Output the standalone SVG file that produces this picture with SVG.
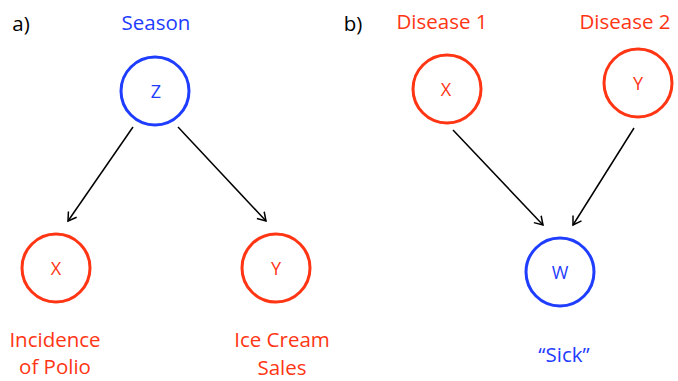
<svg xmlns="http://www.w3.org/2000/svg" width="678" height="381" viewBox="0 0 678 381">
<style>
text{font-family:"Open Sans","Liberation Sans",sans-serif;text-anchor:middle}
.lbl{font-size:20.5px}
.nl{font-size:18px}
.red{fill:#ff3514}
.blue{fill:#1f3dff}
.black{fill:#000}
circle.r{fill:#fff;stroke:#ff3514;stroke-width:3}
circle.b{fill:#fff;stroke:#1f3dff;stroke-width:3}
.edge{stroke:#000;stroke-width:1.5;fill:none;marker-end:url(#ah)}
</style>
<defs>
<marker id="ah" markerWidth="12" markerHeight="12" refX="10" refY="6" orient="auto" markerUnits="userSpaceOnUse">
<path d="M2,1 L10,6 L2,11" fill="none" stroke="#000" stroke-width="1.5"/>
</marker>
</defs>
<text class="lbl black" x="21" y="31">a)</text>
<text class="lbl black" x="353" y="31">b)</text>
<g id="edges">
<line class="edge" x1="133" y1="127" x2="68" y2="221"/>
<line class="edge" x1="178" y1="127" x2="266" y2="221"/>
<line class="edge" x1="453" y1="130" x2="543" y2="225"/>
<line class="edge" x1="634" y1="128" x2="573" y2="225"/>
</g>
<g id="nodeZ">
<circle class="b" cx="155" cy="91" r="34"/>
<text class="nl blue" x="156" y="98">Z</text>
<text class="lbl blue" x="156" y="30">Season</text>
</g>
<g id="nodeXa">
<circle class="r" cx="56" cy="268" r="34"/>
<text class="nl red" x="56" y="275">X</text>
<text class="lbl red" x="55" y="347">Incidence</text>
<text class="lbl red" x="55" y="374">of Polio</text>
</g>
<g id="nodeYa">
<circle class="r" cx="276" cy="268" r="34"/>
<text class="nl red" x="276" y="275">Y</text>
<text class="lbl red" x="282" y="347">Ice Cream</text>
<text class="lbl red" x="282" y="375">Sales</text>
</g>
<g id="nodeXb">
<circle class="r" cx="447" cy="89" r="34"/>
<text class="nl red" x="446" y="96">X</text>
<text class="lbl red" x="442" y="29">Disease 1</text>
</g>
<g id="nodeYb">
<circle class="r" cx="638" cy="83" r="34"/>
<text class="nl red" x="638" y="90">Y</text>
<text class="lbl red" x="625" y="29">Disease 2</text>
</g>
<g id="nodeW">
<circle class="b" cx="560" cy="272" r="34"/>
<text class="nl blue" x="560" y="279">W</text>
<text class="lbl blue" x="564" y="362">“Sick”</text>
</g>
</svg>
